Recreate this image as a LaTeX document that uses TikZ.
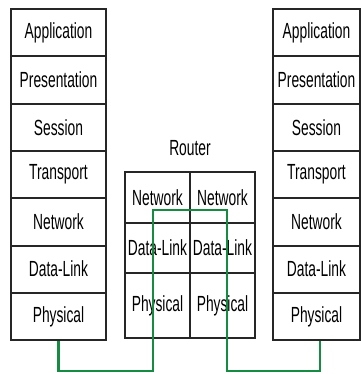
\documentclass[tikz,border=0pt]{standalone}
\usepackage{fontspec}
\setmainfont{Liberation Sans}[FakeStretch=0.63]
\definecolor{wire}{RGB}{20,140,65}
\begin{document}
\begin{tikzpicture}[x=1bp, y=-1bp, font=\fontsize{22}{24}\selectfont, line width=2bp,
    layer/.style={draw=black!85, fill=white, minimum width=95bp, minimum height=47.3bp, inner sep=0pt},
    cell/.style={draw=black!85, fill=white, minimum width=65bp, inner sep=0pt},
    link/.style={draw=wire, line width=2.4bp}]
  \useasboundingbox[fill=white] (0,0) rectangle (361,374);
  % the two end hosts
  \foreach \t [count=\i] in {Application,Presentation,Session,Transport,Network,Data-Link,Physical} {
    \node[layer] (L\i) at (58.5, 9+47.3*\i-23.65) {\t};
    \node[layer, minimum width=87bp] (R\i) at (316.5, 9+47.3*\i-23.65) {\t};
  }
  % router in the middle
  \node (router) at (190,148) {Router};
  \foreach \t/\h/\y [count=\j] in {Network/51bp/197.5, Data-Link/50bp/248, Physical/65bp/305.5} {
    \node[cell, minimum height=\h] (A\j) at (157.5,\y) {\t};
    \node[cell, minimum height=\h] (B\j) at (222.5,\y) {\t};
  }
  \coordinate (b1) at (153,371); \coordinate (t1) at (153,210);
  \coordinate (t2) at (227,210); \coordinate (b2) at (227,371);
  \draw[link] (L7.south) |- (b1) -- (t1) -- (t2) -- (b2) -| ([xshift=3.5bp]R7.south);
\end{tikzpicture}
\end{document}
